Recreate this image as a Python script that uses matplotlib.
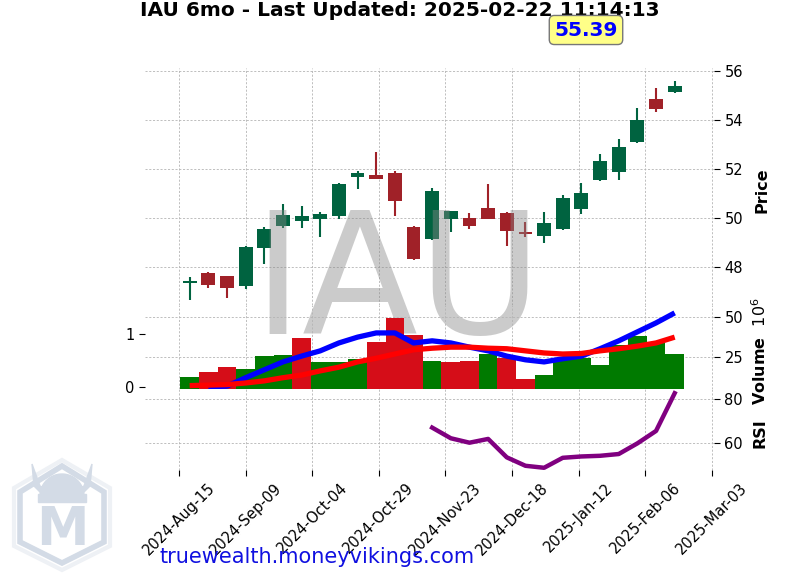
import numpy as np
import pandas as pd
import matplotlib
matplotlib.use('Agg')
import matplotlib.pyplot as plt
import matplotlib.dates as mdates
from matplotlib.patches import Polygon

# weekly bars, IAU
dates = pd.date_range('2024-08-19', periods=27, freq='7D')
opens = [47.35, 47.77, 47.63, 47.22, 48.79, 49.69, 49.89, 49.97, 50.10, 51.69,
         51.76, 51.82, 49.65, 49.14, 49.96, 49.99, 50.42, 50.22, 49.43, 49.28,
         49.55, 50.37, 51.55, 51.89, 53.11, 54.86, 55.16]
highs = [47.60, 47.80, 47.65, 48.85, 49.62, 50.56, 50.50, 50.26, 51.42, 51.92,
         52.71, 51.92, 49.66, 51.21, 50.30, 50.19, 51.38, 50.24, 49.82, 50.23,
         50.94, 51.42, 52.60, 53.21, 54.50, 55.32, 55.60]
lows = [46.65, 47.13, 46.72, 47.09, 48.12, 49.58, 49.58, 49.21, 49.96, 51.18,
        51.58, 50.08, 48.30, 49.12, 49.44, 49.54, 49.95, 48.86, 49.21, 49.00,
        49.50, 50.15, 51.52, 51.55, 53.08, 54.33, 55.12]
closes = [47.42, 47.27, 47.13, 48.83, 49.55, 50.12, 50.08, 50.16, 51.39, 51.82,
          51.60, 50.71, 48.34, 51.10, 50.29, 49.69, 49.96, 49.48, 49.38, 49.80,
          50.83, 51.02, 52.34, 52.90, 54.00, 54.46, 55.39]
volume_m = [12.3, 15.4, 18.6, 17.3, 25.4, 26.1, 36.7, 21.7, 21.5, 23.5,
            34.2, 49.4, 38.6, 22.3, 21.5, 22.3, 26.9, 24.0, 11.1, 13.6,
            23.0, 24.2, 19.8, 32.3, 37.9, 33.4, 26.5]
line_blue = [np.nan, 0.00, 0.01, 0.17, 0.32, 0.47, 0.58, 0.68, 0.83, 0.94,
             1.02, 1.02, 0.83, 0.87, 0.83, 0.75, 0.68, 0.58, 0.51, 0.47,
             0.53, 0.58, 0.72, 0.87, 1.04, 1.21, 1.40]
line_red = [0.02, 0.03, 0.04, 0.07, 0.11, 0.17, 0.22, 0.30, 0.37, 0.47,
            0.54, 0.62, 0.70, 0.73, 0.75, 0.75, 0.73, 0.72, 0.68, 0.64,
            0.62, 0.63, 0.68, 0.72, 0.77, 0.83, 0.94]
rsi = [np.nan] * 13 + [67.1, 62.3, 60.3, 62.0, 53.7, 49.9, 49.0, 53.5, 54.1,
                       54.4, 55.2, 60.0, 65.6, 82.6]

tick_dates = pd.date_range('2024-08-15', periods=9, freq='25D')
last_price = closes[-1]

UP, DOWN = '#006340', '#a02128'
VOL_UP, VOL_DOWN = '#007a00', '#d50d18'
GRID = dict(color='#b4b4b4', linestyle='--', linewidth=0.6, dashes=(2.5, 2))

W, H = 800, 575
fig = plt.figure(figsize=(8, 5.75), dpi=100)

def px_axes(top, bottom, left=145, right=714):
    return fig.add_axes([left / W, 1 - bottom / H, (right - left) / W, (bottom - top) / H])

ax_p = px_axes(68, 305)
ax_v = px_axes(305, 389)
ax_r = px_axes(389, 470)

xlim = (pd.Timestamp('2024-08-02 06:00'), pd.Timestamp('2025-03-03 18:00'))

# candles
o = np.array(opens); c = np.array(closes)
cols = [UP if cc >= oo else DOWN for oo, cc in zip(o, c)]
body = np.where(np.abs(c - o) < 0.07, 0.07 * np.sign(c - o + 1e-9), c - o)
ax_p.vlines(dates, lows, highs, colors=cols, linewidth=1.5, zorder=2)
ax_p.bar(dates, body, bottom=o, width=5.2, color=cols, zorder=3)
ax_p.set_ylim(46.45, 56.12)
ax_p.set_yticks([48, 50, 52, 54, 56])

# volume
prev = np.r_[c[0], c[:-1]]
vcols = [VOL_UP if cc >= pp else VOL_DOWN for cc, pp in zip(c, prev)]
ax_v.bar(dates, volume_m, width=7, color=vcols, zorder=2)
ax_v.set_ylim(4.8, 57.3)
ax_v.set_yticks([25, 50])
ax_v.patch.set_alpha(0)

ax_m = ax_v.twinx()
ax_m.plot(dates, line_blue, color='blue', linewidth=3.8, solid_capstyle='butt')
ax_m.plot(dates, line_red, color='red', linewidth=3.8, solid_capstyle='butt')
ax_m.set_ylim(-0.044, 1.55)
ax_m.set_yticks([0, 1])
ax_m.yaxis.tick_left()

# rsi
ax_r.plot(dates, rsi, color='purple', linewidth=3.2)
ax_r.set_ylim(48.0, 84.5)
ax_r.set_yticks([60, 80])
ax_r.patch.set_alpha(0)

for ax in (ax_p, ax_v, ax_m, ax_r):
    ax.set_xlim(xlim)
    ax.set_xticks(tick_dates)
    for s in ax.spines.values():
        s.set_visible(False)
    ax.tick_params(labelsize=10.5, length=4, width=0.8)

for ax in (ax_p, ax_v, ax_r):
    ax.yaxis.tick_right()
    ax.grid(True, **GRID)
    ax.set_axisbelow(True)

ax_p.tick_params(axis='x', length=0, labelbottom=False)
ax_v.tick_params(axis='x', length=0, labelbottom=False)
ax_m.tick_params(axis='x', length=0, labelbottom=False)
ax_r.xaxis.set_major_formatter(mdates.DateFormatter('%Y-%b-%d'))
for lab in ax_r.get_xticklabels():
    lab.set_rotation(45)
    lab.set_ha('center')

# watermark, under the volume panel
ax_p.text(397 / W, 1 - 287 / H, 'IAU', transform=fig.transFigure, fontsize=122,
          color='#878787', alpha=0.43, ha='center', va='center', clip_on=False, zorder=5)

# labels
fig.text(762 / W, 1 - 190 / H, 'Price', rotation=90, ha='center', va='center',
         fontsize=11.5, fontweight='bold')
fig.text(760 / W, 1 - 351 / H, r'Volume  $10^{6}$', rotation=90, ha='center', va='center',
         fontsize=11.5, fontweight='bold')
fig.text(760 / W, 1 - 433 / H, 'RSI', rotation=90, ha='center', va='center',
         fontsize=11.5, fontweight='bold')

fig.text(0.5, 1 - 11 / H, 'IAU 6mo - Last Updated: 2025-02-22 11:14:13',
         ha='center', va='center', fontsize=14.5, fontweight='bold')
fig.text(586 / W, 1 - 30 / H, f'{last_price:.2f}', ha='center', va='center',
         fontsize=14.5, fontweight='bold', color='blue',
         bbox=dict(boxstyle='round,pad=0.25', fc='#ffff88', ec='#777777', lw=1))
fig.text(160 / W, 1 - 557 / H, 'truewealth.moneyvikings.com', ha='left', va='center',
         fontsize=15, color='#1010e0')

# logo (rough)
ax_l = fig.add_axes([0, 0, 130 / W, 125 / H])
ax_l.set_xlim(0, 130)
ax_l.set_ylim(125, 0)
ax_l.axis('off')
lc = '#d3dbe6'
ax_l.add_patch(Polygon([[62, 10], [110, 38], [110, 96], [62, 120], [14, 96], [14, 38]],
                       closed=True, fc='white', ec='#eef1f5', lw=3))
ax_l.add_patch(Polygon([[62, 16], [104, 42], [104, 92], [62, 113], [20, 92], [20, 42]],
                       closed=True, fc='white', ec=lc, lw=4))
ax_l.add_patch(Polygon([[32, 14], [40, 36], [50, 42], [42, 44], [34, 36]], closed=True, fc=lc, ec=lc))
ax_l.add_patch(Polygon([[92, 14], [84, 36], [74, 42], [82, 44], [90, 36]], closed=True, fc=lc, ec=lc))
th = np.linspace(0, np.pi, 30)
ax_l.add_patch(Polygon(np.c_[62 + 22 * np.cos(th), 46 - 22 * np.sin(th)], closed=True, fc=lc, ec=lc))
ax_l.add_patch(Polygon([[38, 44], [86, 44], [86, 52], [38, 52]], closed=True, fc=lc, ec=lc))
ax_l.text(62, 80, 'M', ha='center', va='center', fontsize=38, fontweight='bold', color=lc)

fig.savefig('out.png', dpi=100)
